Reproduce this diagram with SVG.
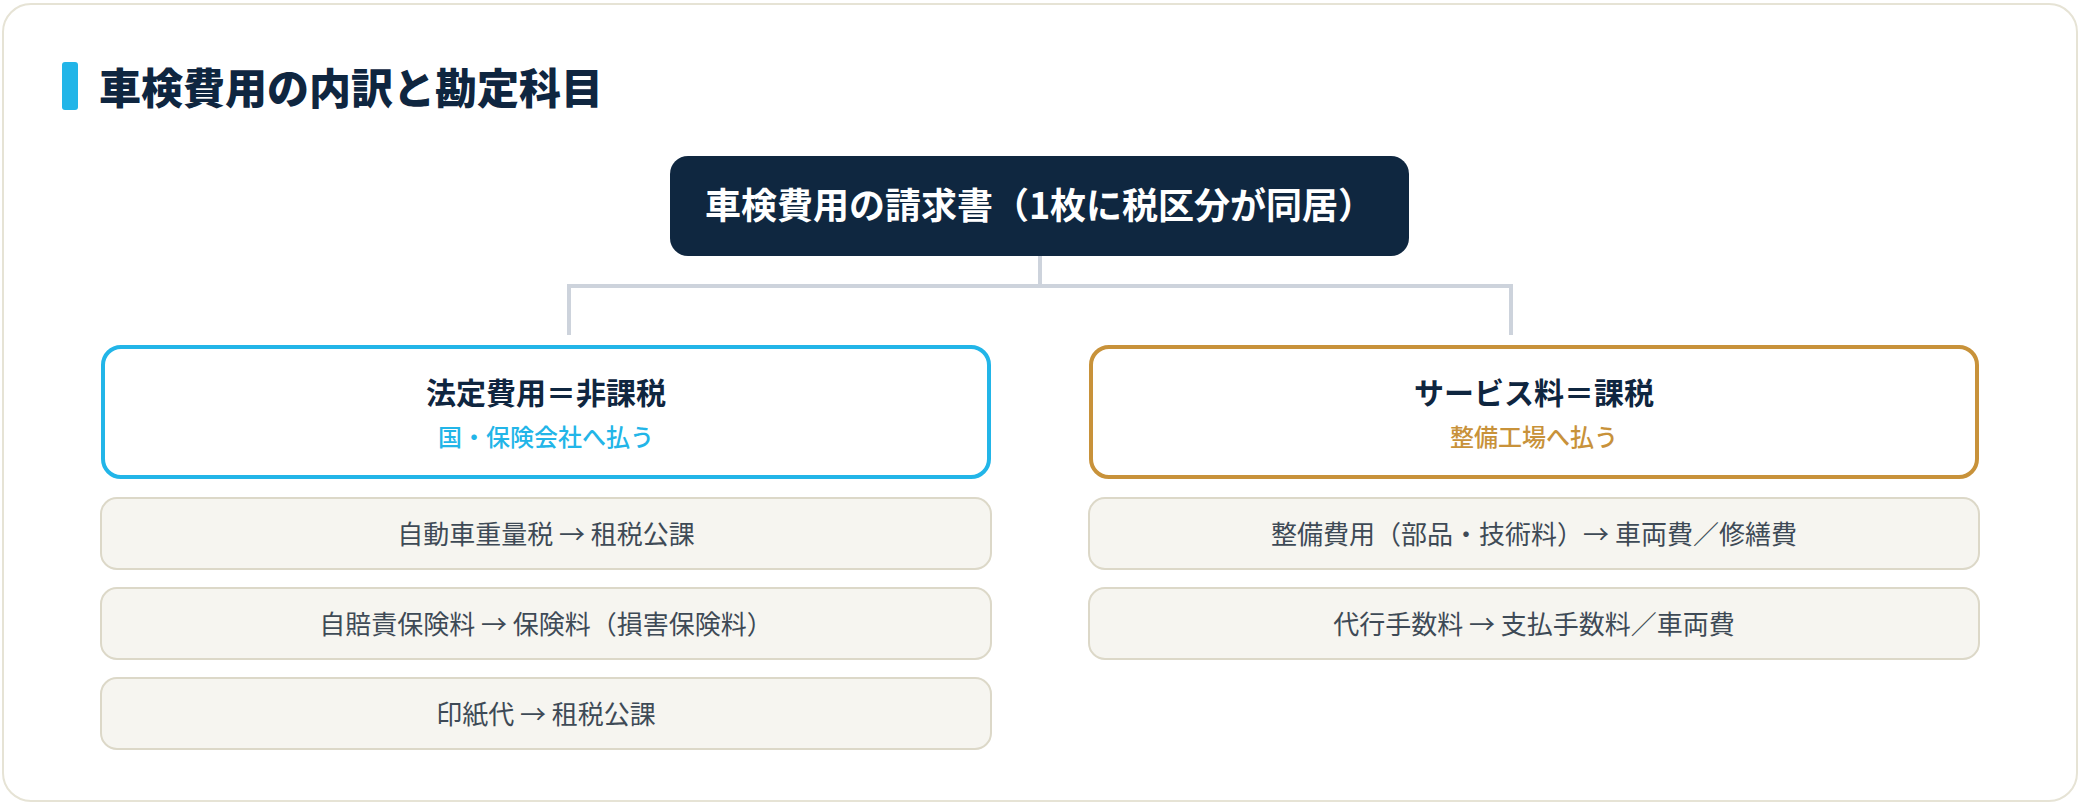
<svg xmlns="http://www.w3.org/2000/svg" width="2080" height="804" viewBox="0 0 2080 804">
<style>
text{font-family:"Noto Sans CJK JP","Noto Sans",sans-serif;}
.title{font-size:42px;font-weight:900;fill:#0f2640;}
.root-t{font-size:36px;font-weight:700;fill:#ffffff;}
.head{font-size:30px;font-weight:700;fill:#0f2640;}
.sub{font-size:24px;font-weight:500;}
.item{fill:#f6f5f0;stroke:#dcd8c8;stroke-width:2;}
.item-t{font-size:26px;font-weight:400;fill:#3e4a56;}
.conn{fill:none;stroke:#cdd3dc;stroke-width:4;}
</style>
<rect x="0" y="0" width="2080" height="804" fill="#ffffff"/>
<rect x="3" y="4" width="2074" height="797" rx="28" fill="#ffffff" stroke="#e6e3d5" stroke-width="2"/>
<g id="title">
<rect x="62" y="62" width="16" height="48" rx="3" fill="#22b5e8"/>
<text class="title" x="99" y="104">車検費用の内訳と勘定科目</text>
</g>
<g id="connectors">
<path class="conn" d="M1040 256 V286 M569 286 H1511 M569 284 V335 M1511 284 V335"/>
</g>
<g id="root">
<rect x="670" y="156" width="739" height="100" rx="18" fill="#0f2740"/>
<text class="root-t" x="1039.5" y="219" text-anchor="middle">車検費用の請求書（1枚に税区分が同居）</text>
</g>
<g id="legal">
<rect x="103" y="347" width="886" height="130" rx="18" fill="#ffffff" stroke="#22b5e8" stroke-width="4"/>
<text class="head" x="546" y="404" text-anchor="middle">法定費用＝非課税</text>
<text class="sub" x="546" y="446" text-anchor="middle" fill="#22b5e8">国・保険会社へ払う</text>
</g>
<g id="service">
<rect x="1091" y="347" width="886" height="130" rx="18" fill="#ffffff" stroke="#c8923a" stroke-width="4"/>
<text class="head" x="1534" y="404" text-anchor="middle">サービス料＝課税</text>
<text class="sub" x="1534" y="446" text-anchor="middle" fill="#c8923a">整備工場へ払う</text>
</g>
<g id="item-weight-tax">
<rect class="item" x="101" y="498" width="890" height="71" rx="16"/>
<text class="item-t" x="546" y="544" text-anchor="middle">自動車重量税 → 租税公課</text>
</g>
<g id="item-insurance">
<rect class="item" x="101" y="588" width="890" height="71" rx="16"/>
<text class="item-t" x="546" y="634" text-anchor="middle">自賠責保険料 → 保険料（損害保険料）</text>
</g>
<g id="item-stamp">
<rect class="item" x="101" y="678" width="890" height="71" rx="16"/>
<text class="item-t" x="546" y="724" text-anchor="middle">印紙代 → 租税公課</text>
</g>
<g id="item-maintenance">
<rect class="item" x="1089" y="498" width="890" height="71" rx="16"/>
<text class="item-t" x="1534" y="544" text-anchor="middle">整備費用（部品・技術料）→ 車両費／修繕費</text>
</g>
<g id="item-agency">
<rect class="item" x="1089" y="588" width="890" height="71" rx="16"/>
<text class="item-t" x="1534" y="634" text-anchor="middle">代行手数料 → 支払手数料／車両費</text>
</g>
</svg>
